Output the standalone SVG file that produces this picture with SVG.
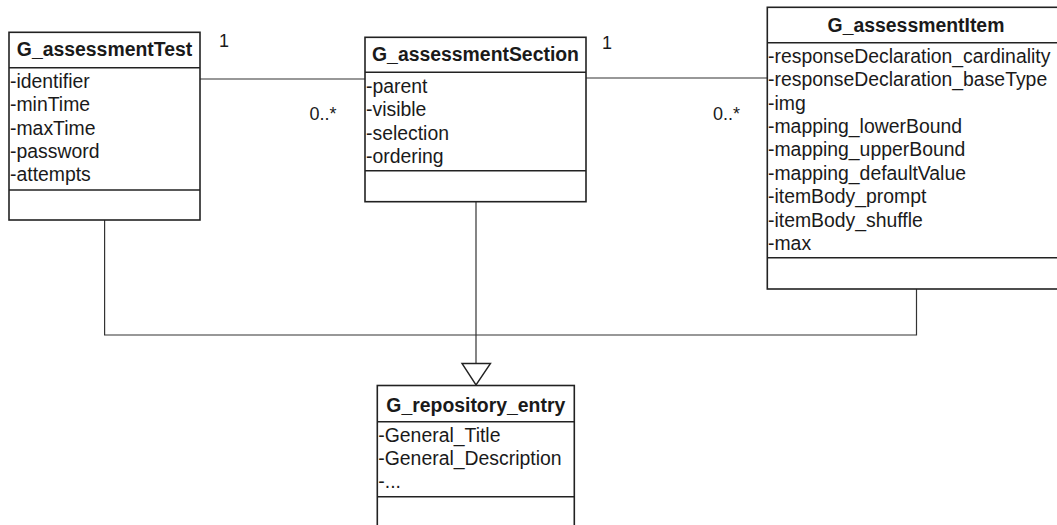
<svg xmlns="http://www.w3.org/2000/svg" width="1057" height="525" viewBox="0 0 1057 525">
<style>
.box{fill:#fff;stroke:#222;stroke-width:1.6}
.sep{stroke:#222;stroke-width:1.6}
.title{font-family:"Liberation Sans",Arial,sans-serif;font-weight:bold;font-size:19.4px;fill:#1a1a1a;text-anchor:middle}
.attr{font-family:"Liberation Sans",Arial,sans-serif;font-size:19.4px;fill:#1a1a1a}
.mult{font-family:"Liberation Sans",Arial,sans-serif;font-size:18px;fill:#1a1a1a}
.conn{fill:none;stroke:#333;stroke-width:1.2}
</style>
<rect width="1057" height="525" fill="#fff"/>
<g id="connectors">
<line class="conn" x1="200" y1="79" x2="365" y2="79"/>
<line class="conn" x1="586" y1="78" x2="767" y2="78"/>
<polyline class="conn" points="104.6,220 104.6,335 916.5,335 916.5,289"/>
<line class="conn" x1="476" y1="201.7" x2="476" y2="363.5"/>
<polygon points="462,363.5 490.5,363.5 476,385" fill="#fff" stroke="#222" stroke-width="1.4"/>
<text class="mult" x="219" y="47.3">1</text>
<text class="mult" x="309.5" y="120">0..*</text>
<text class="mult" x="602" y="49.3">1</text>
<text class="mult" x="713" y="120">0..*</text>
</g>
<g id="G_assessmentTest">
<rect class="box" x="9" y="32.3" width="191" height="187.7"/>
<line class="sep" x1="9" y1="67.7" x2="200" y2="67.7"/>
<line class="sep" x1="9" y1="190" x2="200" y2="190"/>
<text class="title" x="104.5" y="55.7">G_assessmentTest</text>
<text class="attr" x="10" y="88">-identifier</text>
<text class="attr" x="10" y="111.3">-minTime</text>
<text class="attr" x="10" y="134.6">-maxTime</text>
<text class="attr" x="10" y="158">-password</text>
<text class="attr" x="10" y="181.3">-attempts</text>
</g>
<g id="G_assessmentSection">
<rect class="box" x="365" y="37.3" width="221" height="164.4"/>
<line class="sep" x1="365" y1="72.3" x2="586" y2="72.3"/>
<line class="sep" x1="365" y1="170.7" x2="586" y2="170.7"/>
<text class="title" x="475.5" y="60.7">G_assessmentSection</text>
<text class="attr" x="366" y="93">-parent</text>
<text class="attr" x="366" y="116.3">-visible</text>
<text class="attr" x="366" y="139.6">-selection</text>
<text class="attr" x="366" y="163">-ordering</text>
</g>
<g id="G_assessmentItem">
<rect class="box" x="767.3" y="7.3" width="297.5" height="281.7"/>
<line class="sep" x1="767.3" y1="42.7" x2="1065" y2="42.7"/>
<line class="sep" x1="767.3" y1="257.7" x2="1065" y2="257.7"/>
<text class="title" x="916" y="31.7">G_assessmentItem</text>
<text class="attr" x="768" y="62.8">-responseDeclaration_cardinality</text>
<text class="attr" x="768" y="86.2">-responseDeclaration_baseType</text>
<text class="attr" x="768" y="109.6">-img</text>
<text class="attr" x="768" y="133">-mapping_lowerBound</text>
<text class="attr" x="768" y="156.4">-mapping_upperBound</text>
<text class="attr" x="768" y="179.8">-mapping_defaultValue</text>
<text class="attr" x="768" y="203.2">-itemBody_prompt</text>
<text class="attr" x="768" y="226.6">-itemBody_shuffle</text>
<text class="attr" x="768" y="250">-max</text>
</g>
<g id="G_repository_entry">
<rect class="box" x="377.3" y="385.5" width="197" height="150"/>
<line class="sep" x1="377.3" y1="421.7" x2="574.3" y2="421.7"/>
<line class="sep" x1="377.3" y1="496.7" x2="574.3" y2="496.7"/>
<text class="title" x="475.8" y="411.7">G_repository_entry</text>
<text class="attr" x="378.3" y="441.7">-General_Title</text>
<text class="attr" x="378.3" y="465">-General_Description</text>
<text class="attr" x="378.3" y="488.3">-...</text>
</g>
</svg>
